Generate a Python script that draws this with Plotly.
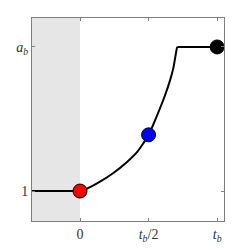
import plotly.graph_objects as go

# curve (t in units of tb, y scaled so that 1 -> 1, ab -> 2)
curve_t = [0.0, 0.049, 0.146, 0.243, 0.341, 0.414, 0.462, 0.504, 0.547, 0.620, 0.657, 0.681, 0.706, 0.71]
curve_y = [1.0, 1.016, 1.065, 1.125, 1.200, 1.268, 1.332, 1.396, 1.490, 1.665, 1.770, 1.855, 1.990, 2.0]
left_t = [-0.35, 0.0]
left_y = [1.0, 1.0]
right_t = [0.71, 1.0]
right_y = [2.0, 2.0]
pts_t = [0.0, 0.5, 1.0]
pts_y = [1.0, 1.39, 2.0]
pts_c = ["#ff0000", "#0000ff", "#000000"]
xtick_vals = [0.0, 0.5, 1.0]
xtick_text = ["0", "<i>t<sub>b</sub></i>/2", "<i>t<sub>b</sub></i>"]
ytick_vals = [1.0, 2.0]
ytick_text = ["1", "<i>a<sub>b</sub></i>"]

fig = go.Figure()
line = dict(color="black", width=2)
fig.add_trace(go.Scatter(x=left_t, y=left_y, mode="lines", line=line))
fig.add_trace(go.Scatter(x=curve_t, y=curve_y, mode="lines",
                         line=dict(color="black", width=2, shape="spline", smoothing=0.5)))
fig.add_trace(go.Scatter(x=right_t, y=right_y, mode="lines", line=line))
fig.add_trace(go.Scatter(x=pts_t, y=pts_y, mode="markers",
                         marker=dict(size=14, color=pts_c, line=dict(color="black", width=1))))

fig.add_shape(type="rect", xref="x", yref="paper", x0=-0.35, x1=0.0, y0=0, y1=1,
              fillcolor="#e6e6e6", line=dict(width=0), layer="below")

axis_common = dict(showgrid=False, zeroline=False, showline=True, linecolor="#7f7f7f", linewidth=1,
                   mirror="ticks", ticks="inside", ticklen=3, tickcolor="#7f7f7f", automargin=False,
                   tickfont=dict(family="Liberation Serif", size=14, color="#333333"))
fig.update_xaxes(range=[-0.35, 1.05], tickvals=xtick_vals, ticktext=xtick_text, **axis_common)
fig.update_yaxes(range=[0.792, 2.201], tickvals=ytick_vals, ticktext=ytick_text, **axis_common)
fig.update_layout(width=248, height=248, margin=dict(l=32, r=24, t=18, b=27),
                  paper_bgcolor="white", plot_bgcolor="white", showlegend=False)
fig.write_html("out.html")
